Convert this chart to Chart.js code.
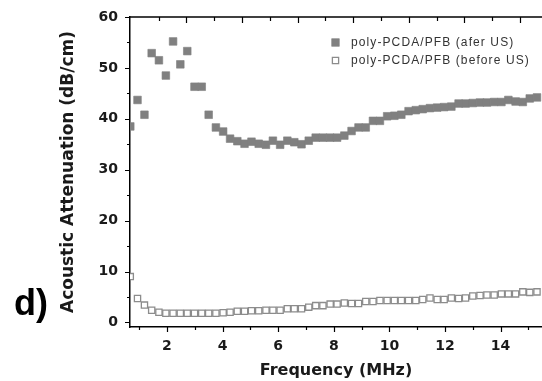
<!DOCTYPE html>
<html>
<head>
<meta charset="utf-8">
<title>Acoustic attenuation</title>
<script src="https://cdn.jsdelivr.net/npm/chart.js@4.4.0/dist/chart.umd.min.js"></script>
<style>
  html, body { margin: 0; padding: 0; background: #fff; overflow: hidden; }
  canvas { display: block; }
</style>
</head>
<body>
<!-- a few px wider than the window: the original plot is cut off at the right edge -->
<canvas id="chart" width="548" height="381"></canvas>
<script>
const freq = [
	0.68, 0.94, 1.19, 1.45, 1.71, 1.96, 2.22, 2.48, 2.73, 2.99,
	3.25, 3.50, 3.76, 4.02, 4.27, 4.53, 4.79, 5.04, 5.30, 5.56,
	5.81, 6.07, 6.33, 6.58, 6.84, 7.10, 7.35, 7.61, 7.87, 8.12,
	8.38, 8.64, 8.89, 9.15, 9.41, 9.66, 9.92, 10.18, 10.43, 10.69,
	10.95, 11.20, 11.46, 11.72, 11.97, 12.23, 12.49, 12.74, 13.00, 13.26,
	13.51, 13.77, 14.03, 14.28, 14.54, 14.80, 15.05, 15.31
];

const afterUS = [
	38.5, 43.7, 40.8, 52.9, 51.5, 48.5, 55.2, 50.7, 53.3, 46.3,
	46.3, 40.8, 38.3, 37.5, 36.1, 35.6, 35.1, 35.5, 35.1, 34.9,
	35.7, 34.9, 35.7, 35.4, 35.0, 35.7, 36.3, 36.3, 36.3, 36.3,
	36.7, 37.6, 38.3, 38.3, 39.6, 39.6, 40.5, 40.6, 40.8, 41.5,
	41.7, 41.9, 42.1, 42.2, 42.3, 42.4, 43.0, 43.0, 43.1, 43.2,
	43.2, 43.3, 43.3, 43.7, 43.4, 43.3, 44.0, 44.2
];

const beforeUS = [
	9.0, 4.7, 3.4, 2.4, 2.0, 1.8, 1.8, 1.8, 1.8, 1.8,
	1.8, 1.8, 1.8, 1.9, 2.0, 2.2, 2.2, 2.3, 2.3, 2.4,
	2.4, 2.4, 2.7, 2.7, 2.7, 3.0, 3.3, 3.3, 3.6, 3.6,
	3.8, 3.7, 3.7, 4.1, 4.1, 4.3, 4.3, 4.3, 4.3, 4.3,
	4.3, 4.5, 4.8, 4.5, 4.5, 4.8, 4.7, 4.8, 5.2, 5.3,
	5.4, 5.4, 5.6, 5.6, 5.6, 6.0, 5.9, 6.0
];

const seriesLabels = ["poly-PCDA/PFB (afer US)", "poly-PCDA/PFB (before US)"];
const xTicks = [2, 4, 6, 8, 10, 12, 14];
const yTicks = [0, 10, 20, 30, 40, 50, 60];
// the top axis of the original figure is shifted against the bottom one
const topShift = 0.7;

const ink = "#1a1a1a";
const tickFont = { family: "DejaVu Sans", size: 14, weight: "bold" };

// ticks (major + minor) on left, bottom and top, plus top frame line
const framePlugin = {
	id: "frame",
	afterDraw(chart) {
		const { ctx, chartArea: a, scales } = chart;
		const x = scales.x;
		const y = scales.y;
		ctx.save();
		ctx.strokeStyle = "#000";
		ctx.lineWidth = 1.5;
		ctx.beginPath();
		ctx.moveTo(a.left - 0.75, a.top);
		ctx.lineTo(a.right, a.top);
		ctx.stroke();

		ctx.lineWidth = 1.2;
		ctx.beginPath();
		for (let v = 0; v <= 60; v += 5) {
			const p = Math.round(y.getPixelForValue(v)) + 0.5;
			const len = v % 10 === 0 ? 5 : 3;
			ctx.moveTo(a.left - len, p);
			ctx.lineTo(a.left, p);
		}
		for (let v = 1; v <= 15; v++) {
			const p = Math.round(x.getPixelForValue(v)) + 0.5;
			const len = v % 2 === 0 ? 5 : 3;
			ctx.moveTo(p, a.bottom);
			ctx.lineTo(p, a.bottom + len);
		}
		for (let v = 1; v <= 14; v++) {
			const p = Math.round(x.getPixelForValue(v + topShift)) + 0.5;
			const len = v % 2 === 0 ? 6 : 4;
			ctx.moveTo(p, a.top);
			ctx.lineTo(p, a.top + len);
		}
		ctx.stroke();

		// legend
		chart.data.datasets.forEach((ds, i) => {
			const cy = 42.5 + i * 18;
			ctx.fillStyle = ds.backgroundColor;
			ctx.strokeStyle = ds.borderColor;
			ctx.lineWidth = ds.borderWidth;
			Chart.helpers.drawPoint(ctx, {
				pointStyle: "rect",
				radius: ds.pointRadius,
				rotation: 0,
				borderWidth: ds.borderWidth
			}, 335.5, cy);
			ctx.fillStyle = "#333";
			ctx.font = '12px "Liberation Sans"';
			ctx.letterSpacing = "1.1px";
			ctx.textAlign = "left";
			ctx.textBaseline = "middle";
			ctx.fillText(ds.label, 351, cy + 0.5);
		});

		// panel letter
		ctx.letterSpacing = "0px";
		ctx.fillStyle = "#000";
		ctx.font = 'bold 36px "Liberation Sans"';
		ctx.textAlign = "left";
		ctx.textBaseline = "alphabetic";
		ctx.fillText("d)", 14, 315);
		ctx.restore();
	}
};

const ctx = document.getElementById("chart");

new Chart(ctx, {
	type: "scatter",
	data: {
		datasets: [
			{
				label: seriesLabels[0],
				data: freq.map((f, i) => ({ x: f, y: afterUS[i] })),
				pointStyle: "rect",
				pointRadius: 5.4,
				pointHoverRadius: 5.4,
				backgroundColor: "#808080",
				borderColor: "#808080",
				borderWidth: 0.6
			},
			{
				label: seriesLabels[1],
				data: freq.map((f, i) => ({ x: f, y: beforeUS[i] })),
				pointStyle: "rect",
				pointRadius: 4.4,
				pointHoverRadius: 4.4,
				backgroundColor: "#ffffff",
				borderColor: "#8c8c8c",
				borderWidth: 1.3
			}
		]
	},
	options: {
		responsive: false,
		animation: false,
		devicePixelRatio: 1,
		layout: { padding: { top: 17, right: 0, bottom: 0, left: 0 } },
		scales: {
			x: {
				type: "linear",
				min: 0.67,
				max: 15.49,
				afterBuildTicks: (scale) => {
					scale.ticks = xTicks.map((v) => ({ value: v }));
				},
				afterFit: (scale) => {
					scale.height = 54;
					scale.paddingLeft = 0;
					scale.paddingRight = 0;
				},
				grid: { display: false, drawTicks: true, tickLength: 5 },
				border: { display: true, color: "#000", width: 1.5 },
				ticks: {
					color: ink,
					font: tickFont,
					padding: 6,
					maxRotation: 0,
					autoSkip: false
				},
				title: {
					display: true,
					text: "Frequency (MHz)",
					color: ink,
					font: { family: "DejaVu Sans", size: 16, weight: "bold" },
					padding: { top: 0, bottom: 1 }
				}
			},
			y: {
				min: -0.9,
				max: 60,
				afterBuildTicks: (scale) => {
					scale.ticks = yTicks.map((v) => ({ value: v }));
				},
				afterFit: (scale) => {
					scale.width = 130;
				},
				grid: { display: false, drawTicks: true, tickLength: 5 },
				border: { display: true, color: "#000", width: 1.5 },
				ticks: {
					color: ink,
					font: tickFont,
					padding: 7
				},
				title: {
					display: true,
					text: "Acoustic Attenuation (dB/cm)",
					color: ink,
					font: { family: "DejaVu Sans", size: 17, weight: "bold" },
					padding: { top: 58, bottom: 0 }
				}
			}
		},
		plugins: {
			legend: { display: false },
			tooltip: { enabled: false }
		}
	},
	plugins: [framePlugin]
});
</script>
</body>
</html>
